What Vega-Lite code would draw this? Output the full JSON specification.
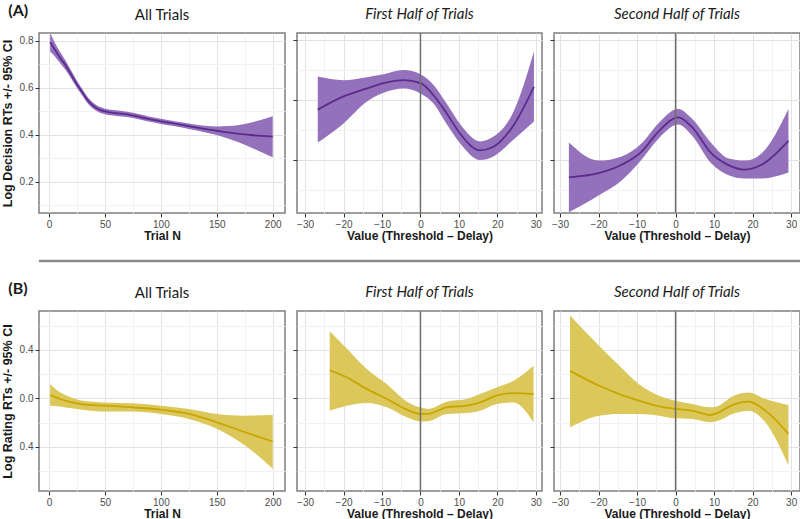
{
  "$schema": "https://vega.github.io/schema/vega-lite/v6.json",
  "padding": {"left": 0, "top": 2, "right": 0, "bottom": 0},
  "background": "white",
  "config": {
    "view": {"stroke": "#7f7f7f", "strokeWidth": 1.5},
    "axis": {
      "labelFont": "Liberation Sans", "labelFontSize": 10, "labelColor": "#4d4d4d",
      "titleFont": "Liberation Sans", "titleFontWeight": "bold", "titleFontSize": 12, "titleColor": "#1a1a1a",
      "domain": false, "tickColor": "#333333", "tickSize": 4, "labelPadding": 2,
      "labelOverlap": false, "labelFlush": false
    },
    "title": {"font": "Lato", "fontSize": 15, "fontWeight": "normal", "color": "#1a1a1a", "offset": 10}
  },
  "datasets": {
    "decAll": [
      {"x": 1, "y": 0.795, "lo": 0.755, "hi": 0.835},
      {"x": 5, "y": 0.765, "lo": 0.735, "hi": 0.795},
      {"x": 10, "y": 0.728, "lo": 0.705, "hi": 0.752},
      {"x": 15, "y": 0.695, "lo": 0.675, "hi": 0.715},
      {"x": 20, "y": 0.655, "lo": 0.638, "hi": 0.672},
      {"x": 25, "y": 0.615, "lo": 0.6, "hi": 0.63},
      {"x": 30, "y": 0.58, "lo": 0.566, "hi": 0.594},
      {"x": 35, "y": 0.545, "lo": 0.532, "hi": 0.558},
      {"x": 40, "y": 0.522, "lo": 0.51, "hi": 0.535},
      {"x": 45, "y": 0.508, "lo": 0.496, "hi": 0.52},
      {"x": 50, "y": 0.5, "lo": 0.488, "hi": 0.512},
      {"x": 60, "y": 0.493, "lo": 0.481, "hi": 0.505},
      {"x": 70, "y": 0.488, "lo": 0.477, "hi": 0.499},
      {"x": 80, "y": 0.478, "lo": 0.467, "hi": 0.489},
      {"x": 90, "y": 0.467, "lo": 0.456, "hi": 0.478},
      {"x": 100, "y": 0.458, "lo": 0.447, "hi": 0.469},
      {"x": 110, "y": 0.45, "lo": 0.439, "hi": 0.461},
      {"x": 120, "y": 0.442, "lo": 0.431, "hi": 0.453},
      {"x": 130, "y": 0.433, "lo": 0.421, "hi": 0.445},
      {"x": 140, "y": 0.425, "lo": 0.411, "hi": 0.439},
      {"x": 150, "y": 0.418, "lo": 0.4, "hi": 0.436},
      {"x": 160, "y": 0.411, "lo": 0.385, "hi": 0.438},
      {"x": 170, "y": 0.405, "lo": 0.368, "hi": 0.443},
      {"x": 180, "y": 0.4, "lo": 0.348, "hi": 0.452},
      {"x": 190, "y": 0.396, "lo": 0.327, "hi": 0.465},
      {"x": 200, "y": 0.393, "lo": 0.305, "hi": 0.48}
    ],
    "decFirst": [
      {"x": -26.7, "y": 0.484, "lo": 0.429, "hi": 0.539},
      {"x": -20, "y": 0.506, "lo": 0.461, "hi": 0.533},
      {"x": -14, "y": 0.519, "lo": 0.497, "hi": 0.538},
      {"x": -9.6, "y": 0.528, "lo": 0.512, "hi": 0.543},
      {"x": -4.4, "y": 0.533, "lo": 0.519, "hi": 0.55},
      {"x": 0, "y": 0.528, "lo": 0.511, "hi": 0.543},
      {"x": 3.4, "y": 0.508, "lo": 0.494, "hi": 0.525},
      {"x": 6.8, "y": 0.478, "lo": 0.46, "hi": 0.494},
      {"x": 10.3, "y": 0.444, "lo": 0.428, "hi": 0.46},
      {"x": 15.5, "y": 0.416, "lo": 0.4, "hi": 0.431},
      {"x": 19, "y": 0.422, "lo": 0.406, "hi": 0.439},
      {"x": 24, "y": 0.456, "lo": 0.433, "hi": 0.478},
      {"x": 29.5, "y": 0.522, "lo": 0.464, "hi": 0.581}
    ],
    "decSecond": [
      {"x": -27.7, "y": 0.371, "lo": 0.313, "hi": 0.429},
      {"x": -20, "y": 0.378, "lo": 0.341, "hi": 0.399},
      {"x": -14, "y": 0.392, "lo": 0.366, "hi": 0.406},
      {"x": -8.8, "y": 0.414, "lo": 0.401, "hi": 0.428},
      {"x": -4.5, "y": 0.447, "lo": 0.435, "hi": 0.461},
      {"x": 0.7, "y": 0.471, "lo": 0.459, "hi": 0.485},
      {"x": 4.1, "y": 0.456, "lo": 0.442, "hi": 0.47},
      {"x": 9.3, "y": 0.411, "lo": 0.394, "hi": 0.428},
      {"x": 13.6, "y": 0.392, "lo": 0.375, "hi": 0.403},
      {"x": 18, "y": 0.384, "lo": 0.369, "hi": 0.399},
      {"x": 22.3, "y": 0.392, "lo": 0.369, "hi": 0.411},
      {"x": 29.3, "y": 0.432, "lo": 0.379, "hi": 0.485}
    ],
    "ratAll": [
      {"x": 1, "y": 0.027, "lo": -0.06, "hi": 0.117},
      {"x": 10, "y": -0.005, "lo": -0.066, "hi": 0.049},
      {"x": 20, "y": -0.033, "lo": -0.082, "hi": 0.008},
      {"x": 30, "y": -0.049, "lo": -0.093, "hi": -0.019},
      {"x": 50, "y": -0.06, "lo": -0.109, "hi": -0.033},
      {"x": 75, "y": -0.074, "lo": -0.109, "hi": -0.041},
      {"x": 100, "y": -0.093, "lo": -0.128, "hi": -0.06},
      {"x": 125, "y": -0.128, "lo": -0.169, "hi": -0.087},
      {"x": 150, "y": -0.197, "lo": -0.25, "hi": -0.128},
      {"x": 175, "y": -0.278, "lo": -0.386, "hi": -0.142},
      {"x": 200, "y": -0.355, "lo": -0.579, "hi": -0.137}
    ],
    "ratFirst": [
      {"x": -23.6, "y": 0.232, "lo": -0.101, "hi": 0.554},
      {"x": -19.1, "y": 0.172, "lo": -0.06, "hi": 0.41},
      {"x": -13.9, "y": 0.076, "lo": -0.038, "hi": 0.24},
      {"x": -8.7, "y": -0.005, "lo": -0.074, "hi": 0.117},
      {"x": -3.5, "y": -0.093, "lo": -0.156, "hi": -0.027},
      {"x": 0, "y": -0.128, "lo": -0.191, "hi": -0.074},
      {"x": 2, "y": -0.128, "lo": -0.188, "hi": -0.087},
      {"x": 6.8, "y": -0.074, "lo": -0.128, "hi": -0.027},
      {"x": 12, "y": -0.06, "lo": -0.12, "hi": -0.005},
      {"x": 15.5, "y": -0.033, "lo": -0.101, "hi": 0.036},
      {"x": 19.8, "y": 0.022, "lo": -0.046, "hi": 0.09},
      {"x": 24.2, "y": 0.044, "lo": -0.033, "hi": 0.145},
      {"x": 29.4, "y": 0.035, "lo": -0.197, "hi": 0.268}
    ],
    "ratSecond": [
      {"x": -27.4, "y": 0.227, "lo": -0.238, "hi": 0.683},
      {"x": -19.8, "y": 0.104, "lo": -0.142, "hi": 0.431},
      {"x": -14.6, "y": 0.035, "lo": -0.128, "hi": 0.268},
      {"x": -9.5, "y": -0.019, "lo": -0.128, "hi": 0.117},
      {"x": -4.3, "y": -0.066, "lo": -0.142, "hi": 0.022},
      {"x": 0, "y": -0.087, "lo": -0.164, "hi": -0.019},
      {"x": 4.3, "y": -0.101, "lo": -0.169, "hi": -0.046},
      {"x": 9.1, "y": -0.137, "lo": -0.197, "hi": -0.074},
      {"x": 11.2, "y": -0.115, "lo": -0.183, "hi": -0.06},
      {"x": 14.7, "y": -0.055, "lo": -0.128, "hi": 0.016},
      {"x": 19, "y": -0.027, "lo": -0.101, "hi": 0.049},
      {"x": 23.3, "y": -0.101, "lo": -0.197, "hi": -0.005},
      {"x": 29.3, "y": -0.292, "lo": -0.551, "hi": -0.055}
    ],
    "zero": [{"v": 0}]
  },
  "vconcat": [
    {
      "title": {"text": "(A)", "anchor": "start", "font": "Lato", "fontSize": 16, "fontWeight": "bold", "dx": 8, "offset": -12, "frame": "bounds"},
      "hconcat": [
        {
          "width": 246, "height": 180,
          "title": {"text": "All Trials"},
          "data": {"name": "decAll"},
          "encoding": {
            "x": {"field": "x", "type": "quantitative", "title": "Trial N",
              "scale": {"domain": [-9, 211], "nice": false, "zero": false},
              "axis": {"values": [0, 25, 50, 75, 100, 125, 150, 175, 200], "titlePadding": 1,
                "labelExpr": "datum.value % 50 == 0 ? datum.label : ''",
                "tickOpacity": {"condition": {"test": "datum.value % 50 == 0", "value": 1}, "value": 0},
                "gridColor": {"condition": {"test": "datum.value % 50 == 0", "value": "#e2e2e2"}, "value": "#f2f2f2"}}}
          },
          "layer": [
            {"mark": {"type": "area", "color": "#9471bb", "opacity": 1, "interpolate": "monotone", "clip": true},
             "encoding": {
               "y": {"field": "lo", "type": "quantitative", "title": "Log Decision RTs +/- 95% CI",
                 "scale": {"domain": [0.068, 0.834], "nice": false, "zero": false},
                 "axis": {"values": [0.1, 0.2, 0.3, 0.4, 0.5, 0.6, 0.7, 0.8], "format": ".1f", "titleFontSize": 12.5, "titlePadding": 5,
                   "labelExpr": "round(datum.value*10) % 2 == 0 ? datum.label : ''",
                   "tickOpacity": {"condition": {"test": "round(datum.value*10) % 2 == 0", "value": 1}, "value": 0},
                   "gridColor": {"condition": {"test": "round(datum.value*10) % 2 == 0", "value": "#e2e2e2"}, "value": "#f2f2f2"}}},
               "y2": {"field": "hi"}}},
            {"mark": {"type": "line", "color": "#5b2c8e", "strokeWidth": 1.8, "interpolate": "monotone", "clip": true},
             "encoding": {"y": {"field": "y", "type": "quantitative", "title": "Log Decision RTs +/- 95% CI",
                 "scale": {"domain": [0.068, 0.834], "nice": false, "zero": false},
                 "axis": {"values": [0.1, 0.2, 0.3, 0.4, 0.5, 0.6, 0.7, 0.8], "format": ".1f", "titleFontSize": 12.5, "titlePadding": 5,
                   "labelExpr": "round(datum.value*10) % 2 == 0 ? datum.label : ''",
                   "tickOpacity": {"condition": {"test": "round(datum.value*10) % 2 == 0", "value": 1}, "value": 0},
                   "gridColor": {"condition": {"test": "round(datum.value*10) % 2 == 0", "value": "#e2e2e2"}, "value": "#f2f2f2"}}}}}
          ]
        },
        {
          "width": 245, "height": 180,
          "title": {"text": "First Half of Trials", "fontStyle": "italic"},
          "encoding": {
            "x": {"field": "x", "type": "quantitative", "title": "Value (Threshold – Delay)",
              "scale": {"domain": [-32.1, 31.6], "nice": false, "zero": false},
              "axis": {"values": [-30, -25, -20, -15, -10, -5, 0, 5, 10, 15, 20, 25, 30], "titlePadding": 1,
                "labelExpr": "datum.value % 10 == 0 ? datum.label : ''",
                "tickOpacity": {"condition": {"test": "datum.value % 10 == 0", "value": 1}, "value": 0},
                "gridColor": {"condition": {"test": "datum.value % 10 == 0", "value": "#e2e2e2"}, "value": "#f2f2f2"}}},
            "y": {"field": "y", "type": "quantitative", "title": null,
                 "scale": {"domain": [0.3117, 0.6117], "nice": false, "zero": false},
                 "axis": {"values": [0.35, 0.4, 0.45, 0.5, 0.55, 0.6], "labels": false,
                   "tickOpacity": {"condition": {"test": "round(datum.value*100) % 10 == 0", "value": 1}, "value": 0},
                   "gridColor": {"condition": {"test": "round(datum.value*100) % 10 == 0", "value": "#e2e2e2"}, "value": "#f2f2f2"}}}
          },
          "layer": [
            {"data": {"name": "decFirst"},
             "mark": {"type": "area", "color": "#9471bb", "interpolate": "monotone", "clip": true},
             "encoding": {"y": {"field": "lo", "type": "quantitative", "title": null,
                 "scale": {"domain": [0.3117, 0.6117], "nice": false, "zero": false},
                 "axis": {"values": [0.35, 0.4, 0.45, 0.5, 0.55, 0.6], "labels": false,
                   "tickOpacity": {"condition": {"test": "round(datum.value*100) % 10 == 0", "value": 1}, "value": 0},
                   "gridColor": {"condition": {"test": "round(datum.value*100) % 10 == 0", "value": "#e2e2e2"}, "value": "#f2f2f2"}}}, "y2": {"field": "hi"}}},
            {"data": {"name": "decFirst"},
             "mark": {"type": "line", "color": "#5b2c8e", "strokeWidth": 1.8, "interpolate": "monotone", "clip": true},
             "encoding": {}},
            {"data": {"name": "zero"},
             "mark": {"type": "rule", "color": "#6e6e6e", "strokeWidth": 1.5},
             "encoding": {"x": {"field": "v", "type": "quantitative"}, "y": null}}
          ]
        },
        {
          "width": 246, "height": 180,
          "title": {"text": "Second Half of Trials", "fontStyle": "italic"},
          "encoding": {
            "x": {"field": "x", "type": "quantitative", "title": "Value (Threshold – Delay)",
              "scale": {"domain": [-31.56, 32.3], "nice": false, "zero": false},
              "axis": {"values": [-30, -25, -20, -15, -10, -5, 0, 5, 10, 15, 20, 25, 30], "titlePadding": 1,
                "labelExpr": "datum.value % 10 == 0 ? datum.label : ''",
                "tickOpacity": {"condition": {"test": "datum.value % 10 == 0", "value": 1}, "value": 0},
                "gridColor": {"condition": {"test": "datum.value % 10 == 0", "value": "#e2e2e2"}, "value": "#f2f2f2"}}},
            "y": {"field": "y", "type": "quantitative", "title": null,
                 "scale": {"domain": [0.3117, 0.6117], "nice": false, "zero": false},
                 "axis": {"values": [0.35, 0.4, 0.45, 0.5, 0.55, 0.6], "labels": false,
                   "tickOpacity": {"condition": {"test": "round(datum.value*100) % 10 == 0", "value": 1}, "value": 0},
                   "gridColor": {"condition": {"test": "round(datum.value*100) % 10 == 0", "value": "#e2e2e2"}, "value": "#f2f2f2"}}}
          },
          "layer": [
            {"data": {"name": "decSecond"},
             "mark": {"type": "area", "color": "#9471bb", "interpolate": "monotone", "clip": true},
             "encoding": {"y": {"field": "lo", "type": "quantitative", "title": null,
                 "scale": {"domain": [0.3117, 0.6117], "nice": false, "zero": false},
                 "axis": {"values": [0.35, 0.4, 0.45, 0.5, 0.55, 0.6], "labels": false,
                   "tickOpacity": {"condition": {"test": "round(datum.value*100) % 10 == 0", "value": 1}, "value": 0},
                   "gridColor": {"condition": {"test": "round(datum.value*100) % 10 == 0", "value": "#e2e2e2"}, "value": "#f2f2f2"}}}, "y2": {"field": "hi"}}},
            {"data": {"name": "decSecond"},
             "mark": {"type": "line", "color": "#5b2c8e", "strokeWidth": 1.8, "interpolate": "monotone", "clip": true},
             "encoding": {}},
            {"data": {"name": "zero"},
             "mark": {"type": "rule", "color": "#6e6e6e", "strokeWidth": 1.5},
             "encoding": {"x": {"field": "v", "type": "quantitative"}, "y": null}}
          ]
        }
      ],
      "spacing": 5
    },
    {
      "width": 792, "height": 2,
      "view": {"stroke": null},
      "data": {"name": "zero"},
      "mark": {"type": "rule", "color": "#8a8a8a", "strokeWidth": 2.5},
      "encoding": {"y": {"field": "v", "type": "quantitative", "axis": null, "scale": {"domain": [-1, 1]}}}
    },
    {
      "title": {"text": "(B)", "anchor": "start", "font": "Lato", "fontSize": 16, "fontWeight": "bold", "dx": 8, "offset": -12, "frame": "bounds"},
      "hconcat": [
        {
          "width": 246, "height": 180,
          "title": {"text": "All Trials"},
          "data": {"name": "ratAll"},
          "encoding": {
            "x": {"field": "x", "type": "quantitative", "title": "Trial N",
              "scale": {"domain": [-9, 211], "nice": false, "zero": false},
              "axis": {"values": [0, 25, 50, 75, 100, 125, 150, 175, 200], "titlePadding": 1,
                "labelExpr": "datum.value % 50 == 0 ? datum.label : ''",
                "tickOpacity": {"condition": {"test": "datum.value % 50 == 0", "value": 1}, "value": 0},
                "gridColor": {"condition": {"test": "datum.value % 50 == 0", "value": "#e2e2e2"}, "value": "#f2f2f2"}}},
            "y": {"field": "y", "type": "quantitative", "title": "Log Rating RTs +/- 95% CI",
                 "scale": {"domain": [-0.763, 0.72], "nice": false, "zero": false},
                 "axis": {"values": [-0.6, -0.4, -0.2, 0, 0.2, 0.4, 0.6], "format": ".1f", "titleFontSize": 12.5, "titlePadding": 5,
                   "labelExpr": "round(datum.value*10) % 4 == 0 ? replace(replace(datum.label, '−', ''), '-', '') : ''",
                   "tickOpacity": {"condition": {"test": "round(datum.value*10) % 4 == 0", "value": 1}, "value": 0},
                   "gridColor": {"condition": {"test": "round(datum.value*10) % 4 == 0", "value": "#e2e2e2"}, "value": "#f2f2f2"}}}
          },
          "layer": [
            {"mark": {"type": "area", "color": "#dbc75a", "interpolate": "monotone", "clip": true},
             "encoding": {"y": {"field": "lo", "type": "quantitative", "title": "Log Rating RTs +/- 95% CI",
                 "scale": {"domain": [-0.763, 0.72], "nice": false, "zero": false},
                 "axis": {"values": [-0.6, -0.4, -0.2, 0, 0.2, 0.4, 0.6], "format": ".1f", "titleFontSize": 12.5, "titlePadding": 5,
                   "labelExpr": "round(datum.value*10) % 4 == 0 ? replace(replace(datum.label, '−', ''), '-', '') : ''",
                   "tickOpacity": {"condition": {"test": "round(datum.value*10) % 4 == 0", "value": 1}, "value": 0},
                   "gridColor": {"condition": {"test": "round(datum.value*10) % 4 == 0", "value": "#e2e2e2"}, "value": "#f2f2f2"}}}, "y2": {"field": "hi"}}},
            {"mark": {"type": "line", "color": "#c8a600", "strokeWidth": 1.8, "interpolate": "monotone", "clip": true},
             "encoding": {}}
          ]
        },
        {
          "width": 245, "height": 180,
          "title": {"text": "First Half of Trials", "fontStyle": "italic"},
          "encoding": {
            "x": {"field": "x", "type": "quantitative", "title": "Value (Threshold – Delay)",
              "scale": {"domain": [-32.1, 31.6], "nice": false, "zero": false},
              "axis": {"values": [-30, -25, -20, -15, -10, -5, 0, 5, 10, 15, 20, 25, 30], "titlePadding": 1,
                "labelExpr": "datum.value % 10 == 0 ? datum.label : ''",
                "tickOpacity": {"condition": {"test": "datum.value % 10 == 0", "value": 1}, "value": 0},
                "gridColor": {"condition": {"test": "datum.value % 10 == 0", "value": "#e2e2e2"}, "value": "#f2f2f2"}}},
            "y": {"field": "y", "type": "quantitative", "title": null,
                 "scale": {"domain": [-0.763, 0.72], "nice": false, "zero": false},
                 "axis": {"values": [-0.6, -0.4, -0.2, 0, 0.2, 0.4, 0.6], "labels": false,
                   "tickOpacity": {"condition": {"test": "round(datum.value*10) % 4 == 0", "value": 1}, "value": 0},
                   "gridColor": {"condition": {"test": "round(datum.value*10) % 4 == 0", "value": "#e2e2e2"}, "value": "#f2f2f2"}}}
          },
          "layer": [
            {"data": {"name": "ratFirst"},
             "mark": {"type": "area", "color": "#dbc75a", "interpolate": "monotone", "clip": true},
             "encoding": {"y": {"field": "lo", "type": "quantitative", "title": null,
                 "scale": {"domain": [-0.763, 0.72], "nice": false, "zero": false},
                 "axis": {"values": [-0.6, -0.4, -0.2, 0, 0.2, 0.4, 0.6], "labels": false,
                   "tickOpacity": {"condition": {"test": "round(datum.value*10) % 4 == 0", "value": 1}, "value": 0},
                   "gridColor": {"condition": {"test": "round(datum.value*10) % 4 == 0", "value": "#e2e2e2"}, "value": "#f2f2f2"}}}, "y2": {"field": "hi"}}},
            {"data": {"name": "ratFirst"},
             "mark": {"type": "line", "color": "#c8a600", "strokeWidth": 1.8, "interpolate": "monotone", "clip": true},
             "encoding": {}},
            {"data": {"name": "zero"},
             "mark": {"type": "rule", "color": "#6e6e6e", "strokeWidth": 1.5},
             "encoding": {"x": {"field": "v", "type": "quantitative"}, "y": null}}
          ]
        },
        {
          "width": 246, "height": 180,
          "title": {"text": "Second Half of Trials", "fontStyle": "italic"},
          "encoding": {
            "x": {"field": "x", "type": "quantitative", "title": "Value (Threshold – Delay)",
              "scale": {"domain": [-31.56, 32.3], "nice": false, "zero": false},
              "axis": {"values": [-30, -25, -20, -15, -10, -5, 0, 5, 10, 15, 20, 25, 30], "titlePadding": 1,
                "labelExpr": "datum.value % 10 == 0 ? datum.label : ''",
                "tickOpacity": {"condition": {"test": "datum.value % 10 == 0", "value": 1}, "value": 0},
                "gridColor": {"condition": {"test": "datum.value % 10 == 0", "value": "#e2e2e2"}, "value": "#f2f2f2"}}},
            "y": {"field": "y", "type": "quantitative", "title": null,
                 "scale": {"domain": [-0.763, 0.72], "nice": false, "zero": false},
                 "axis": {"values": [-0.6, -0.4, -0.2, 0, 0.2, 0.4, 0.6], "labels": false,
                   "tickOpacity": {"condition": {"test": "round(datum.value*10) % 4 == 0", "value": 1}, "value": 0},
                   "gridColor": {"condition": {"test": "round(datum.value*10) % 4 == 0", "value": "#e2e2e2"}, "value": "#f2f2f2"}}}
          },
          "layer": [
            {"data": {"name": "ratSecond"},
             "mark": {"type": "area", "color": "#dbc75a", "interpolate": "monotone", "clip": true},
             "encoding": {"y": {"field": "lo", "type": "quantitative", "title": null,
                 "scale": {"domain": [-0.763, 0.72], "nice": false, "zero": false},
                 "axis": {"values": [-0.6, -0.4, -0.2, 0, 0.2, 0.4, 0.6], "labels": false,
                   "tickOpacity": {"condition": {"test": "round(datum.value*10) % 4 == 0", "value": 1}, "value": 0},
                   "gridColor": {"condition": {"test": "round(datum.value*10) % 4 == 0", "value": "#e2e2e2"}, "value": "#f2f2f2"}}}, "y2": {"field": "hi"}}},
            {"data": {"name": "ratSecond"},
             "mark": {"type": "line", "color": "#c8a600", "strokeWidth": 1.8, "interpolate": "monotone", "clip": true},
             "encoding": {}},
            {"data": {"name": "zero"},
             "mark": {"type": "rule", "color": "#6e6e6e", "strokeWidth": 1.5},
             "encoding": {"x": {"field": "v", "type": "quantitative"}, "y": null}}
          ]
        }
      ],
      "spacing": 5
    }
  ],
  "spacing": 17
}
